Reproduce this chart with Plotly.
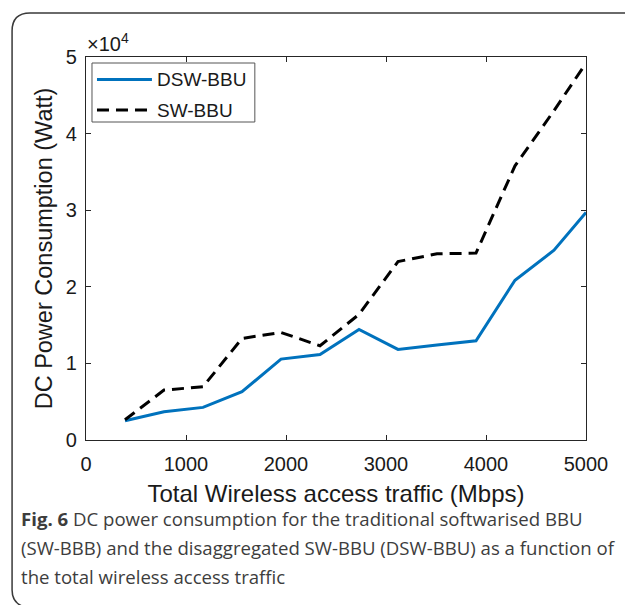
import plotly.graph_objects as go

# ---- data ----
traffic_mbps = [390, 780, 1170, 1560, 1950, 2340, 2730, 3120, 3510, 3900, 4290, 4680, 5000]
dsw_bbu_watt = [2520, 3690, 4260, 6300, 10560, 11150, 14430, 11830, 12400, 12950, 20860, 24770, 29700]
sw_bbu_watt = [2650, 6520, 6950, 13260, 14040, 12300, 16400, 23300, 24300, 24400, 35800, 43000, 49200]
series_names = ["DSW-BBU", "SW-BBU"]
x_ticks = [0, 1000, 2000, 3000, 4000, 5000]
y_ticks = [0, 10000, 20000, 30000, 40000, 50000]
y_tick_text = ["0", "1", "2", "3", "4", "5"]
x_title = "Total Wireless access traffic (Mbps)"
y_title = "DC Power Consumption (Watt)"
caption_lines = [
    "<b>Fig. 6</b> DC power consumption for the traditional softwarised BBU",
    "(SW-BBB) and the disaggregated SW-BBU (DSW-BBU) as a function of",
    "the total wireless access traffic",
]

# ---- layout geometry (pixels) ----
W, H = 625, 605
L, R, T, B = 86, 586.5, 57, 440

def px(x):
    return (x - L) / (R - L)

def py(y):
    return (B - y) / (B - T)

BLUE = "#0072BD"
AX = "#262626"
FONT = "Liberation Sans"

fig = go.Figure()
fig.add_trace(go.Scatter(x=traffic_mbps, y=dsw_bbu_watt, mode="lines", name=series_names[0],
                         line=dict(color=BLUE, width=3), showlegend=False))
fig.add_trace(go.Scatter(x=traffic_mbps, y=sw_bbu_watt, mode="lines", name=series_names[1],
                         line=dict(color="black", width=3, dash="12px,7px"), showlegend=False))

axis_common = dict(showline=True, mirror="ticks", linecolor=AX, linewidth=1.3,
                   ticks="inside", ticklen=5, tickwidth=1, tickcolor=AX,
                   showgrid=False, zeroline=False,
                   tickfont=dict(family=FONT, size=20, color="#1a1a1a"))

fig.update_xaxes(range=[0, 5000], tickvals=x_ticks, ticklabelstandoff=6,
                 title=dict(text=x_title, font=dict(family=FONT, size=24, color="#1a1a1a"), standoff=11),
                 **axis_common)
fig.update_yaxes(range=[0, 50000], tickvals=y_ticks, ticktext=y_tick_text, ticklabelstandoff=4,
                 title=dict(text=y_title, font=dict(family=FONT, size=23.5, color="#1a1a1a"), standoff=6),
                 **axis_common)

shapes = []
# outer rounded frame
pts = "M {},{} Q {},{} {},{} L {},{} Q {},{} {},{} L {},{}".format(
    px(30), py(608), px(12), py(606), px(12), py(590), px(12), py(31),
    px(12), py(13), px(30), py(13), px(640), py(13))
shapes.append(dict(type="path", path=pts, xref="paper", yref="paper",
                   line=dict(color="#3a3a3a", width=1.5)))
# custom legend box
shapes.append(dict(type="rect", xref="paper", yref="paper",
                   x0=px(92), x1=px(255), y0=py(122), y1=py(63),
                   line=dict(color="#555555", width=1), fillcolor="white"))
shapes.append(dict(type="line", xref="paper", yref="paper",
                   x0=px(97), x1=px(152), y0=py(79.5), y1=py(79.5),
                   line=dict(color=BLUE, width=3)))
shapes.append(dict(type="line", xref="paper", yref="paper",
                   x0=px(97), x1=px(152), y0=py(110), y1=py(110),
                   line=dict(color="black", width=3, dash="12px,7px")))

annotations = []
for name, yy in zip(series_names, [79.5, 110]):
    annotations.append(dict(text=name, xref="paper", yref="paper", x=px(155), y=py(yy),
                            xanchor="left", yanchor="middle", showarrow=False,
                            font=dict(family=FONT, size=19, color="#1a1a1a")))
annotations.append(dict(text="×10<sup>4</sup>", xref="paper", yref="paper", x=px(85), y=py(57),
                        xanchor="left", yanchor="bottom", showarrow=False,
                        font=dict(family=FONT, size=20, color="#1a1a1a")))
for line, yy in zip(caption_lines, [518, 547, 576]):
    annotations.append(dict(text=line, xref="paper", yref="paper", x=px(19), y=py(yy),
                            xanchor="left", yanchor="middle", showarrow=False,
                            font=dict(family="Open Sans", size=18.6, color="#3d3d3d")))

fig.update_layout(width=W, height=H, margin=dict(l=L, r=W - R, t=T, b=H - B),
                  paper_bgcolor="white", plot_bgcolor="white",
                  shapes=shapes, annotations=annotations, showlegend=False)

fig.write_html("out.html")
